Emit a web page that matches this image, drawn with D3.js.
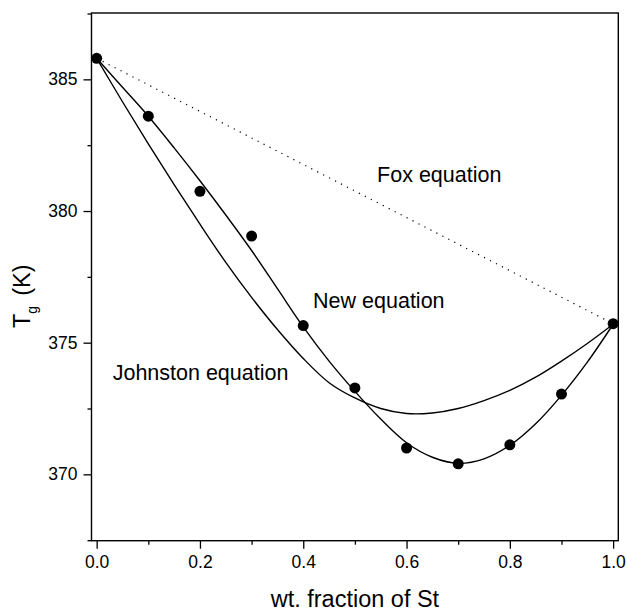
<!DOCTYPE html>
<html>
<head>
<meta charset="utf-8">
<script src="https://cdn.jsdelivr.net/npm/d3@7"></script>
<style>
    body { margin: 0; background: #fff; }
    svg { display: block; font-family: "Liberation Sans", Arial, sans-serif; }
    .axis path { display: none; }
    .axis line { stroke: #000; stroke-width: 1.3px; }
    .axis text { font-size: 17.5px; fill: #000; }
</style>
</head>
<body>
<script>
(function(){

// measured Tg values (K) vs wt. fraction of St
var stFrac = [0, 0.1, 0.2, 0.3, 0.4, 0.5, 0.6, 0.7, 0.8, 0.9, 1.0];
var tgMeasured = [385.8, 383.6, 380.75, 379.05, 375.65, 373.28, 371.0, 370.4, 371.12, 373.05, 375.72];

// curves every 0.05
var curveFrac = [0, 0.05, 0.1, 0.15, 0.2, 0.25, 0.3, 0.35, 0.4, 0.45, 0.5,
    0.55, 0.6, 0.65, 0.7, 0.75, 0.8, 0.85, 0.9, 0.95, 1.0];
var tgNew = [385.8, 384.7, 383.6, 382.4, 381.15, 379.85, 378.5, 377.05, 375.6, 374.3, 373.15,
    372.1, 371.2, 370.65, 370.42, 370.59, 371.1, 371.92, 373.0, 374.26, 375.7];
var tgJohnston = [385.8, 384.15, 382.55, 381.0, 379.5, 378.05, 376.72, 375.5, 374.4, 373.48, 372.9,
    372.5, 372.31, 372.33, 372.5, 372.8, 373.19, 373.69, 374.3, 374.97, 375.7];

// Fox equation: straight line between the pure components
var foxFrac = [0, 1.0];
var tgFox = [385.8, 375.72];

// axis ticks
var xTicks = [0, 0.2, 0.4, 0.6, 0.8, 1.0];
var xMinor = [0.1, 0.3, 0.5, 0.7, 0.9];
var yTicks = [370, 375, 380, 385];
var yMinor = [367.5, 372.5, 377.5, 382.5, 387.5];

// curve labels
var labelText = ["Fox equation", "New equation", "Johnston equation"];
var labelFrac = [0.543, 0.419, 0.031];
var labelTg = [381.1, 376.32, 373.6];

// frame dimensions
var width = 627,
    height = 612,
    left = 91.5,
    right = 618.3,
    top = 13,
    bottom = 540.7;

var svg = d3.select("body")
    .append("svg")
    .attr("width", width)
    .attr("height", height);

var x = d3.scaleLinear()
    .domain([-0.01, 1.01])
    .range([left, right]);

var y = d3.scaleLinear()
    .domain([367.48, 387.52])
    .range([bottom, top]);

// minor ticks first, then major with labels
svg.append("g")
    .attr("class", "axis")
    .attr("transform", "translate(0," + bottom + ")")
    .call(d3.axisBottom(x).tickValues(xMinor).tickSize(4).tickFormat(""));

svg.append("g")
    .attr("class", "axis")
    .attr("transform", "translate(0," + bottom + ")")
    .call(d3.axisBottom(x).tickValues(xTicks).tickSize(8).tickPadding(7).tickFormat(d3.format(".1f")));

svg.append("g")
    .attr("class", "axis")
    .attr("transform", "translate(" + left + ",0)")
    .call(d3.axisLeft(y).tickValues(yMinor).tickSize(4).tickFormat(""));

svg.append("g")
    .attr("class", "axis")
    .attr("transform", "translate(" + left + ",0)")
    .call(d3.axisLeft(y).tickValues(yTicks).tickSize(8).tickPadding(6).tickFormat(d3.format("d")));

// plot frame
svg.append("rect")
    .attr("x", left)
    .attr("y", top)
    .attr("width", right - left)
    .attr("height", bottom - top)
    .attr("fill", "none")
    .attr("stroke", "#000")
    .attr("stroke-width", 1.4);

var line = d3.line()
    .x(function(d){ return x(d[0]); })
    .y(function(d){ return y(d[1]); })
    .curve(d3.curveCatmullRom);

function pairs(xs, ys){
    return xs.map(function(v, i){ return [v, ys[i]]; });
}

// Fox (dotted)
svg.append("path")
    .datum(pairs(foxFrac, tgFox))
    .attr("d", d3.line().x(function(d){ return x(d[0]); }).y(function(d){ return y(d[1]); }))
    .attr("fill", "none")
    .attr("stroke", "#000")
    .attr("stroke-width", 1.2)
    .attr("stroke-dasharray", "1.2,5.5");

// Johnston and new equation
[tgJohnston, tgNew].forEach(function(series){
    svg.append("path")
        .datum(pairs(curveFrac, series))
        .attr("d", line)
        .attr("fill", "none")
        .attr("stroke", "#000")
        .attr("stroke-width", 1.4);
});

// measured points
svg.selectAll(".dot")
    .data(pairs(stFrac, tgMeasured))
    .enter()
    .append("circle")
    .attr("class", "dot")
    .attr("cx", function(d){ return x(d[0]); })
    .attr("cy", function(d){ return y(d[1]); })
    .attr("r", 5.5)
    .attr("fill", "#000");

// curve labels
svg.selectAll(".curveLabel")
    .data(labelText)
    .enter()
    .append("text")
    .attr("class", "curveLabel")
    .attr("x", function(d, i){ return x(labelFrac[i]); })
    .attr("y", function(d, i){ return y(labelTg[i]); })
    .attr("font-size", "21.5px")
    .text(function(d){ return d; });

// axis titles
svg.append("text")
    .attr("x", (left + right) / 2)
    .attr("y", 607)
    .attr("text-anchor", "middle")
    .attr("font-size", "23.5px")
    .text("wt. fraction of St");

var yTitle = svg.append("text")
    .attr("transform", "translate(30,328) rotate(-90)")
    .attr("font-size", "23.5px");
yTitle.append("tspan").text("T");
yTitle.append("tspan").attr("font-size", "14px").attr("dy", 7).text("g");
yTitle.append("tspan").attr("dy", -7).attr("dx", 10).text("(K)");

})();
</script>
</body>
</html>
